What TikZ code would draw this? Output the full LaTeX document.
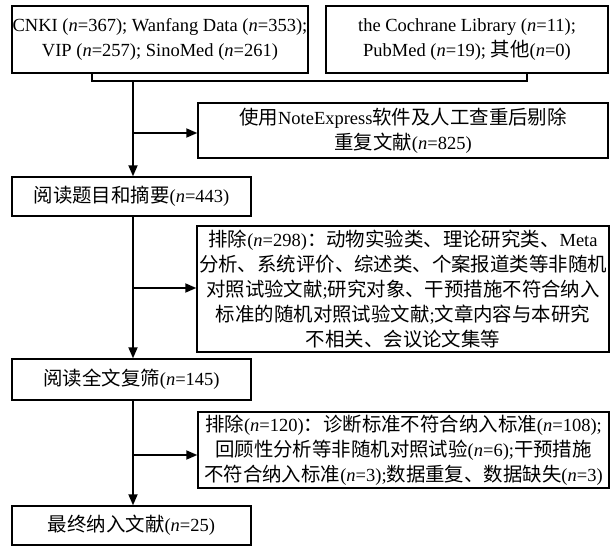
\documentclass[tikz,border=0pt]{standalone}
\usepackage{fontspec}
\setmainfont{Liberation Serif}
\newfontfamily\cjk{Noto Sans CJK SC}[Scale=1.05]
\usetikzlibrary{arrows.meta}
\newcommand{\zh}[1]{{\cjk #1}}
\newcommand{\nn}{\textit{n}}
\begin{document}
\begin{tikzpicture}[x=1pt,y=-1pt,
  box/.style={draw, line width=1.4pt, inner sep=0pt, align=center,
    font=\fontsize{18.5}{25}\selectfont},
  conn/.style={line width=1.8pt},
  arr/.style={conn, -{Triangle[length=11pt,width=9pt]}}]
\useasboundingbox[fill=white] (0,0) rectangle (615,548);

\node[box, minimum width=296pt, minimum height=67pt] (src1) at (160,39.5)
  {CNKI (\nn=367); Wanfang Data (\nn=353);\\VIP (\nn=257); SinoMed (\nn=261)};
\node[box, minimum width=282pt, minimum height=67pt] (src2) at (467,39.5)
  {the Cochrane Library (\nn=11);\\PubMed (\nn=19); \zh{其他}(\nn=0)};
\node[box, minimum width=410pt, minimum height=55pt] (dup) at (403,130.5)
  {\zh{使用}NoteExpress\zh{软件及人工查重后剔除}\\\zh{重复文献}(\nn=825)};
\node[box, minimum width=239pt, minimum height=39pt] (read1) at (131.5,196.5)
  {\zh{阅读题目和摘要}(\nn=443)};
\node[box, minimum width=412pt, minimum height=126pt] (ex1) at (403,289)
  {\zh{排除}(\nn=298)\zh{：动物实验类、理论研究类、}Meta\\
   \zh{分析、系统评价、综述类、个案报道类等非随机}\\
   \zh{对照试验文献};\zh{研究对象、干预措施不符合纳入}\\
   \zh{标准的随机对照试验文献};\zh{文章内容与本研究}\\
   \zh{不相关、会议论文集等}};
\node[box, minimum width=239pt, minimum height=41pt] (read2) at (131.5,379.5)
  {\zh{阅读全文复筛}(\nn=145)};
\node[box, minimum width=411pt, minimum height=76pt] (ex2) at (403.5,450)
  {\zh{排除}(\nn=120)\zh{：诊断标准不符合纳入标准}(\nn=108);\\
   \zh{回顾性分析等非随机对照试验}(\nn=6);\zh{干预措施}\\
   \zh{不符合纳入标准}(\nn=3);\zh{数据重复、数据缺失}(\nn=3)};
\node[box, minimum width=239pt, minimum height=39pt] (final) at (131.5,525.5)
  {\zh{最终纳入文献}(\nn=25)};

\coordinate (jl) at (92,81);
\coordinate (jr) at (527,81);
\coordinate (jm) at (133,81);
\coordinate (b1) at (133,133);
\coordinate (b2) at (133,288);
\coordinate (b3) at (133,455);

\draw[conn] (src1.south -| jl) -- (jl) -- (jr) -- (src2.south -| jr);
\draw[arr] (jm) -- (read1.north -| jm);
\draw[arr] (b1) -- (dup.west |- b1);
\draw[arr] (read1.south -| jm) -- (read2.north -| jm);
\draw[arr] (b2) -- (ex1.west |- b2);
\draw[arr] (read2.south -| jm) -- (final.north -| jm);
\draw[arr] (b3) -- (ex2.west |- b3);
\end{tikzpicture}
\end{document}
